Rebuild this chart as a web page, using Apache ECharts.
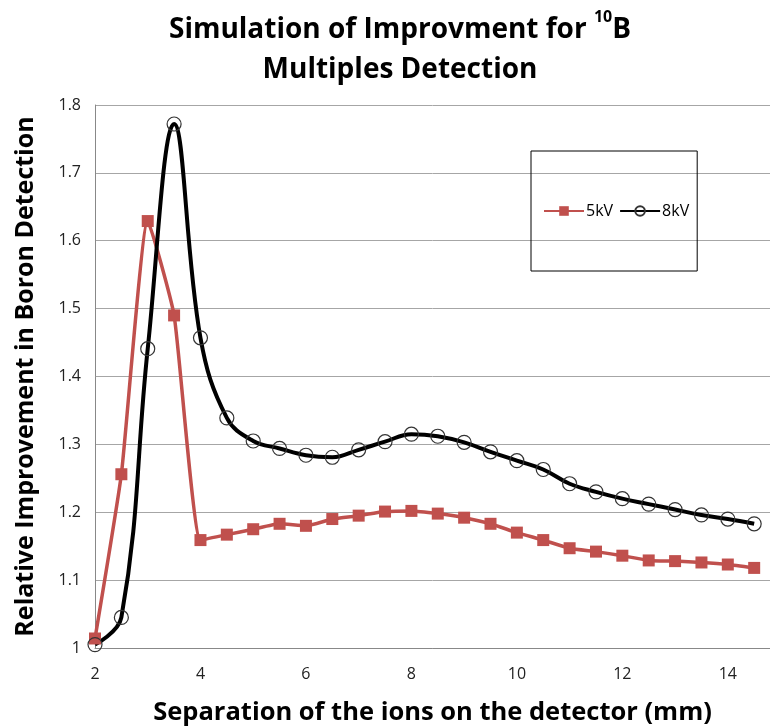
<!DOCTYPE html>
<html>
<head>
<meta charset="utf-8">
<script src="https://cdn.jsdelivr.net/npm/echarts@6/dist/echarts.min.js"></script>
<style>
  html, body { margin: 0; padding: 0; background: #fff; }
  #chart { width: 770px; height: 727px; }
</style>
</head>
<body>
<div id="chart"></div>
<script>
// separation (mm)
const separation = [2, 2.5, 3, 3.5, 4, 4.5, 5, 5.5, 6, 6.5, 7, 7.5, 8, 8.5, 9, 9.5, 10, 10.5, 11, 11.5, 12, 12.5, 13, 13.5, 14, 14.5];
// relative improvement, 5kV
const improve5kV = [1.014, 1.256, 1.629, 1.490, 1.159, 1.167, 1.175, 1.183, 1.180, 1.190, 1.195, 1.201, 1.202, 1.198, 1.192, 1.183, 1.170, 1.159, 1.147, 1.142, 1.136, 1.129, 1.128, 1.126, 1.123, 1.118];
// relative improvement, 8kV
const improve8kV = [1.005, 1.045, 1.441, 1.772, 1.457, 1.339, 1.305, 1.294, 1.284, 1.281, 1.292, 1.304, 1.315, 1.312, 1.303, 1.289, 1.276, 1.263, 1.242, 1.230, 1.220, 1.212, 1.204, 1.196, 1.190, 1.183];

const font = "'Open Sans', 'Liberation Sans', sans-serif";
const chart = echarts.init(document.getElementById('chart'));

const option = {
  animation: false,
  textStyle: { fontFamily: font },
  graphic: [
    {
      type: 'text',
      x: 400,
      y: 4,
      style: {
        text: '{a|Simulation of Improvment for }{sup|10}{a|B}\n{a|Multiples Detection}',
        align: 'center',
        fill: '#000',
        rich: {
          a: { fontSize: 28, fontWeight: 'bold', fontFamily: font, lineHeight: 40, verticalAlign: 'bottom' },
          sup: { fontSize: 16, fontWeight: 'bold', fontFamily: font, lineHeight: 40, verticalAlign: 'top', padding: [5, 0, 0, 0] }
        }
      }
    }
  ],
  grid: { left: 95, right: 0, top: 105, bottom: 79, outerBoundsMode: 'none' },
  legend: {
    left: 531,
    top: 151,
    padding: [52, 8, 52, 12],
    borderColor: '#000',
    borderWidth: 1,
    itemWidth: 40,
    itemHeight: 12,
    itemGap: 6,
    textStyle: { fontSize: 16, color: '#000', padding: [0, 0, 0, -3] },
    data: ['5kV', '8kV']
  },
  xAxis: {
    type: 'value',
    min: 2,
    max: 14.8,
    interval: 2,
    name: 'Separation of the ions on the detector (mm)',
    nameLocation: 'middle',
    nameGap: 52,
    nameTextStyle: { fontSize: 25.5, fontWeight: 'bold', color: '#000', verticalAlign: 'top' },
    axisLine: { lineStyle: { color: '#888', width: 1 } },
    axisTick: { show: false },
    axisLabel: { fontSize: 16, color: '#222', margin: 18, showMaxLabel: false },
    splitLine: { show: false }
  },
  yAxis: {
    type: 'value',
    min: 1,
    max: 1.8,
    interval: 0.1,
    name: 'Relative Improvement in Boron Detection',
    nameLocation: 'middle',
    nameGap: 57,
    nameTextStyle: { fontSize: 25, fontWeight: 'bold', color: '#000' },
    axisLine: { show: true, lineStyle: { color: '#888', width: 1 } },
    axisTick: { show: false },
    axisLabel: { fontSize: 16, color: '#222', margin: 14 },
    splitLine: { lineStyle: { color: '#a6a6a6', width: 1 } }
  },
  series: [
    {
      name: '5kV',
      type: 'line',
      smooth: 0.15,
      data: separation.map((x, i) => [x, improve5kV[i]]),
      symbol: 'rect',
      symbolSize: 12,
      lineStyle: { color: '#c0504d', width: 3.5 },
      itemStyle: { color: '#c0504d' }
    },
    {
      name: '8kV',
      type: 'line',
      smooth: 0.4,
      data: separation.map((x, i) => [x, improve8kV[i]]),
      symbol: 'circle',
      symbolSize: 14,
      lineStyle: { color: '#000', width: 4 },
      itemStyle: { color: 'rgba(0,0,0,0)', borderColor: '#333', borderWidth: 1.2 }
    }
  ]
};

chart.setOption(option);
</script>
</body>
</html>
